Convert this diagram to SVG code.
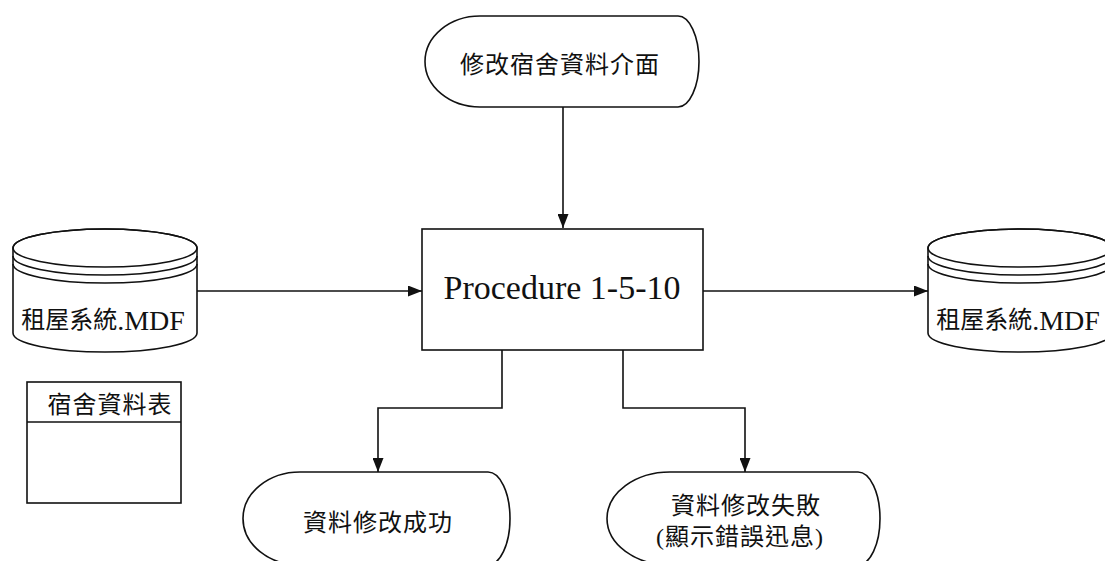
<svg xmlns="http://www.w3.org/2000/svg" width="1105" height="561" viewBox="0 0 1105 561">
<defs>
<style>
.s{fill:#fff;stroke:#111;stroke-width:1.6}
.n{fill:none;stroke:#111;stroke-width:1.6}
.c{fill:none;stroke:#111;stroke-width:1.6;marker-end:url(#ah)}
.t{font-family:"Noto Sans CJK TC","Liberation Sans",sans-serif;font-size:24px;letter-spacing:1px;fill:#111;text-anchor:middle;dominant-baseline:central}
.m{font-family:"Liberation Serif","Noto Sans CJK TC",serif;font-size:24px;fill:#111;text-anchor:middle;dominant-baseline:central}
.mdf{font-family:"Liberation Serif",serif;font-size:28px}
.p{font-family:"Liberation Serif",serif;font-size:34px;fill:#111;text-anchor:middle}
</style>
<marker id="ah" viewBox="0 0 14 11" refX="14" refY="5.5" markerWidth="14" markerHeight="11" markerUnits="userSpaceOnUse" orient="auto">
<path d="M0,0 L14,5.5 L0,11 Z" fill="#111"/>
</marker>
</defs>
<rect width="1105" height="561" fill="#fff"/>
<g id="connectors">
<path class="c" d="M563,107 L563,228"/>
<path class="c" d="M197,291 L422,291"/>
<path class="c" d="M703,291 L928,291"/>
<path class="c" d="M502,350 L502,408 L378,408 L378,472"/>
<path class="c" d="M623,350 L623,408 L745,408 L745,472"/>
</g>
<g id="ui-terminal">
<path class="s" d="M480,16 L678,16 A21,45.5 0 0 1 678,107 L480,107 A55,45.5 0 0 1 480,16 Z"/>
<text class="t" x="560" y="62">修改宿舍資料介面</text>
</g>
<g id="procedure">
<rect class="s" x="422" y="229" width="281" height="121"/>
<text class="p" x="562" y="299">Procedure 1-5-10</text>
</g>
<g id="db-in">
<path class="s" d="M13,248 L13,333 A92,19 0 0 0 197,333 L197,248 A92,19 0 0 0 13,248 Z"/>
<ellipse class="n" cx="105" cy="248" rx="92" ry="19"/>
<path class="n" d="M13,256 A92,19 0 0 0 197,256"/>
<path class="n" d="M13,264 A92,19 0 0 0 197,264"/>
<text class="m" x="103" y="320">租屋系統<tspan class="mdf">.MDF</tspan></text>
</g>
<g id="db-out">
<path class="s" d="M928,248 L928,333 A92,19 0 0 0 1112,333 L1112,248 A92,19 0 0 0 928,248 Z"/>
<ellipse class="n" cx="1020" cy="248" rx="92" ry="19"/>
<path class="n" d="M928,256 A92,19 0 0 0 1112,256"/>
<path class="n" d="M928,264 A92,19 0 0 0 1112,264"/>
<text class="m" x="1018" y="320">租屋系統<tspan class="mdf">.MDF</tspan></text>
</g>
<g id="table">
<rect class="s" x="27" y="382" width="154" height="121"/>
<line class="n" x1="27" y1="422" x2="181" y2="422"/>
<text class="t" x="110" y="402">宿舍資料表</text>
</g>
<g id="success">
<path class="s" d="M300,472 L488,472 A22,46.5 0 0 1 488,565 L300,565 A57,46.5 0 0 1 300,472 Z"/>
<text class="t" x="378" y="520">資料修改成功</text>
</g>
<g id="failure">
<path class="s" d="M670,472 L858,472 A22,46.5 0 0 1 858,565 L670,565 A63,46.5 0 0 1 670,472 Z"/>
<text class="t" x="746" y="503">資料修改失敗</text>
<text class="m" x="740" y="537" letter-spacing="1">(顯示錯誤迅息)</text>
</g>
</svg>
